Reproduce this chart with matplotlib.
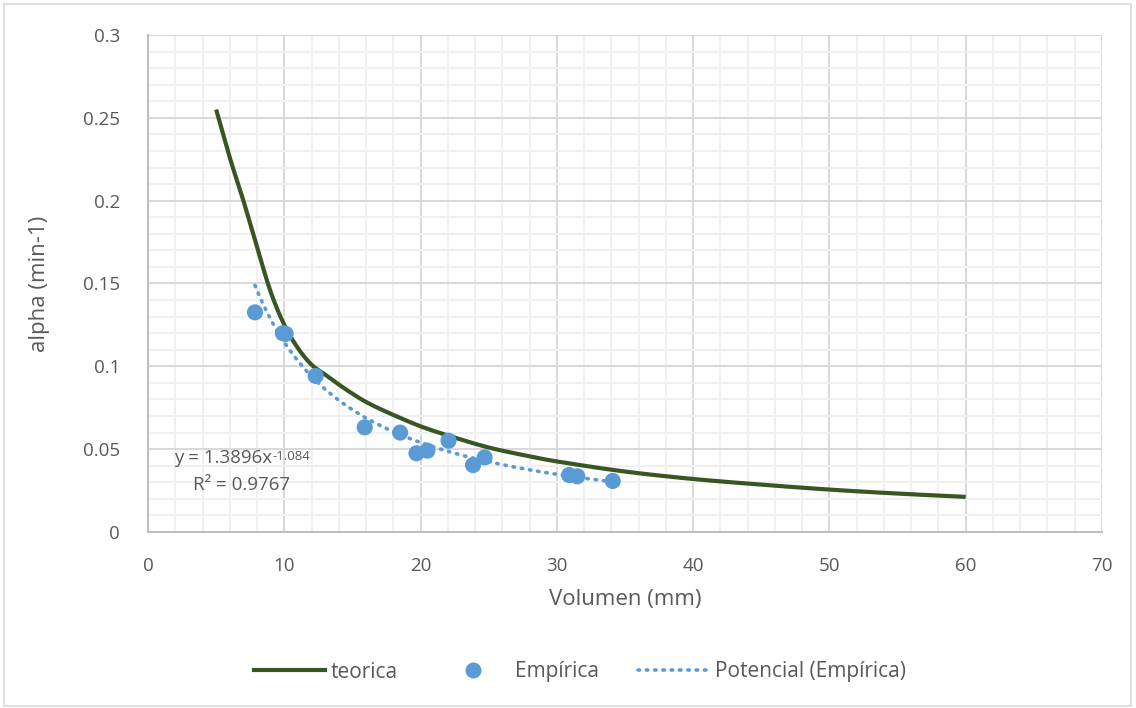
import matplotlib
matplotlib.use("Agg")
import matplotlib.pyplot as plt
import numpy as np
from matplotlib.lines import Line2D
from matplotlib.patches import Rectangle

# Theoretical curve (teorica)
teo_x = [5, 6, 7, 8, 9, 10, 11, 12, 13, 14, 15, 16, 17.5, 20, 22.5, 25, 27.5,
         30, 35, 40, 45, 50, 55, 60]
teo_y = [0.255, 0.226, 0.200, 0.172, 0.145, 0.125, 0.111, 0.101, 0.0950, 0.0890,
         0.0835, 0.0785, 0.0725, 0.0638, 0.0570, 0.0510, 0.0465, 0.0426, 0.0365,
         0.0320, 0.0286, 0.0256, 0.0232, 0.0212]

# Measured points (Empírica)
emp_x = [7.85, 9.9, 10.1, 12.3, 15.9, 18.5, 19.7, 20.5, 22.05, 23.85, 24.7,
         30.9, 31.5, 34.1]
emp_y = [0.1326, 0.1200, 0.1196, 0.0942, 0.0632, 0.0600, 0.0475, 0.0491, 0.0551,
         0.0404, 0.0450, 0.0344, 0.0336, 0.0308]

# Power trendline coefficients: y = a * x^b
trend_a = 1.3896
trend_b = -1.084
trend_r2 = 0.9767

x_ticks = [0, 10, 20, 30, 40, 50, 60, 70]
y_ticks = [0, 0.05, 0.1, 0.15, 0.2, 0.25, 0.3]
y_tick_labels = ["0", "0.05", "0.1", "0.15", "0.2", "0.25", "0.3"]


def smooth_line(xs, ys, n=20):
    """Catmull-Rom style smoothing between consecutive points (smoothed line)."""
    p = np.column_stack([xs, ys]).astype(float)
    p = np.vstack([p[0], p, p[-1]])
    out = []
    t = np.linspace(0, 1, n, endpoint=False)[:, None]
    for i in range(1, len(p) - 2):
        p0, p1, p2, p3 = p[i - 1], p[i], p[i + 1], p[i + 2]
        c1 = p1 + (p2 - p0) / 6.0
        c2 = p2 - (p3 - p1) / 6.0
        seg = ((1 - t) ** 3) * p1 + 3 * ((1 - t) ** 2) * t * c1 \
            + 3 * (1 - t) * t ** 2 * c2 + t ** 3 * p2
        out.append(seg)
    out.append(p[-2][None, :])
    out = np.vstack(out)
    return out[:, 0], out[:, 1]


plt.rcParams['font.family'] = ['Open Sans', 'DejaVu Sans']
text_color = "#595959"

fig = plt.figure(figsize=(11.36, 7.08), dpi=100)
ax = fig.add_axes([148 / 1136, 1 - 532 / 708, (1102 - 148) / 1136, (532 - 35) / 708])

# Outer chart border
fig.patches.append(Rectangle((4 / 1136, 2 / 708), 1127 / 1136, 702 / 708,
                             transform=fig.transFigure, fill=False,
                             edgecolor="#D9D9D9", linewidth=1.2))

ax.set_xlim(0, 70)
ax.set_ylim(0, 0.3)
ax.set_xticks(x_ticks)
ax.set_xticklabels([str(v) for v in x_ticks])
ax.set_yticks(y_ticks)
ax.set_yticklabels(y_tick_labels)
ax.set_xticks(np.arange(0, 70.1, 2), minor=True)
ax.set_yticks(np.arange(0, 0.3001, 0.01), minor=True)

ax.grid(which="minor", color="#F0F0F0", linewidth=1.5, zorder=0)
ax.grid(which="major", color="#D9D9D9", linewidth=1.5, zorder=0)
ax.set_axisbelow(True)

for side in ("top", "right"):
    ax.spines[side].set_visible(False)
for side in ("left", "bottom"):
    ax.spines[side].set_color("#BFBFBF")
    ax.spines[side].set_linewidth(1.5)

ax.tick_params(which="both", length=0)
ax.tick_params(axis="x", pad=18, labelsize=13.5, labelcolor=text_color)
ax.tick_params(axis="y", pad=20, labelsize=13.5, labelcolor=text_color)

ax.set_xlabel("Volumen (mm)", fontsize=16, color=text_color, labelpad=10)
ax.set_ylabel("alpha (min-1)", fontsize=16, color=text_color, labelpad=24)

# Theoretical line (smoothed)
sx, sy = smooth_line(teo_x, teo_y)
ax.plot(sx, sy, color="#375623", linewidth=3.0, solid_capstyle="butt", zorder=3)

# Measured points
ax.scatter(emp_x, emp_y, s=135, color="#5B9BD5", edgecolors="none", zorder=4)

# Power trendline over the data range
tx = np.linspace(min(emp_x), max(emp_x), 300)
ty = trend_a * tx ** trend_b
ax.plot(tx, ty, color="#5B9BD5", linewidth=2.6, linestyle=(0, (0.4, 1.9)),
        dash_capstyle="round", zorder=5)

# Trendline equation
t1 = ax.text(1.9, 0.0448, f"y = {trend_a:.4f}x", fontsize=13.5, color=text_color,
             va="center", ha="left")
ax.annotate(f"{trend_b:.3f}", xy=(1, 1), xycoords=t1, xytext=(0, -1),
            textcoords="offset points", fontsize=9.5, color=text_color,
            va="top", ha="left")
ax.text(3.3, 0.0285, f"R² = {trend_r2:.4f}", fontsize=13.5, color=text_color,
        va="center", ha="left")

# Legend
handles = [
    Line2D([], [], color="#375623", linewidth=3.0),
    Line2D([], [], color="#5B9BD5", marker="o", linestyle="none", markersize=11.5,
           markeredgewidth=0),
    Line2D([], [], color="#5B9BD5", linewidth=2.6, linestyle=(0, (0.4, 1.9)),
           dash_capstyle="round"),
]
labels = ["teorica", "Empírica", "Potencial (Empírica)"]
leg = fig.legend(handles, labels, loc="center", bbox_to_anchor=(580 / 1136, 1 - 672 / 708),
                 ncol=3, frameon=False, fontsize=15, handlelength=3.4,
                 handletextpad=0.3, columnspacing=1.9)
for t in leg.get_texts():
    t.set_color(text_color)

fig.savefig("out.png", dpi=100, facecolor="white")
